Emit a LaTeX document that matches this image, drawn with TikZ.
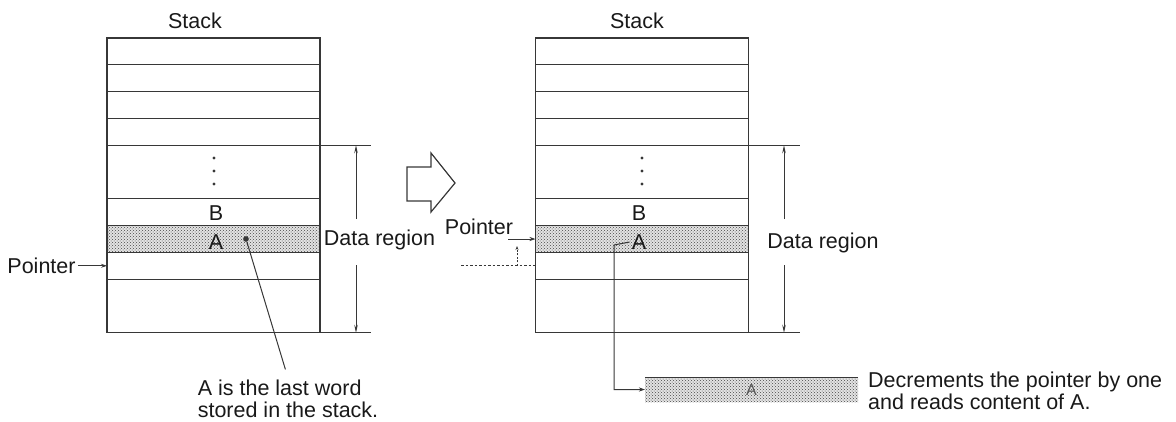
\documentclass[tikz,border=0pt]{standalone}
\usepackage{fontspec}
\setmainfont{Liberation Sans}
\usepackage{tikz}
\usetikzlibrary{
  arrows.meta,
  patterns
}
\definecolor{LineGray}{RGB}{55, 55, 55}
\definecolor{TextDark}{RGB}{25, 25, 25}
\tikzset{
  cell/.style={draw=LineGray, line width=1.2pt, minimum width=213pt, inner sep=0pt, outer sep=0pt},
  shaded/.style={preaction={fill=gray!22}, pattern=crosshatch dots, pattern color=gray!55!black},
  lbl/.style={text=TextDark, inner sep=2pt},
  rule/.style={draw=LineGray, line width=1.2pt},
  ptr/.style={draw=LineGray, line width=1pt, -{Stealth[length=6pt, width=4pt]}},
  dim/.style={draw=LineGray, line width=1pt, -{Stealth[length=8pt, width=3.5pt]}}
}

\begin{document}
\begin{tikzpicture}[x=1pt, y=-1pt, font=\fontsize{21.5}{22}\selectfont]
  \useasboundingbox (0,0) rectangle (1176,421);
  % the two stacks, before and after
  \foreach \s/\x in {l/213.5, r/642}{
    \foreach \n/\y/\h in {1/51.4/26.8, 2/78.2/26.8, 3/105/26.8, 4/131.8/26.8, 5/172/53.6, 6/212.2/26.8, 8/265.8/26.8, 9/306/53.6}
      \node[cell, minimum height=\h pt] (\s\n) at (\x,\y) {};
    \node[cell, shaded, minimum height=26.8pt] (\s7) at (\x,239) {};
  }
  \foreach \x in {214, 642}
    \foreach \y in {158, 171, 184}
      \fill[LineGray] (\x,\y) circle (1.7pt);

  % left: before
  \node[lbl] (lstack) at (195,21) {Stack};
  \node[lbl] (lBlab) at (216,213) {B};
  \node[lbl] (lAlab) at (216,242) {A};
  \node[lbl] (lptr) at (41.5,265.8) {Pointer};
  \draw[ptr] (lptr.east) -- (l8.west);
  \node[circle, fill=LineGray, inner sep=2pt] (ldot) at (246,239) {};
  \node[lbl, align=left, anchor=north] (lnote) at (288,378) {A is the last word\\stored in the stack.};
  \draw[rule, line width=1pt, shorten >=9pt] (ldot) -- (lnote.north);
  \coordinate (lend) at (371,0);
  \draw[rule] (l5.north east) -- (l5.north east -| lend);
  \draw[rule] (l9.south east) -- (l9.south east -| lend);
  \node[lbl] (ldata) at (379.5,240) {Data region};
  \coordinate (lup) at (356,219);
  \coordinate (ldown) at (356,265);
  \draw[dim] (lup) -- (lup |- l5.north);
  \draw[dim] (ldown) -- (ldown |- l9.south);

  % hollow arrow
  \draw[rule] (407,167) -- (431,167) -- (431,153) -- (455,183) -- (431,212) -- (431,201) -- (407,201) -- cycle;

  % right: after
  \node[lbl] (rstack) at (637,21) {Stack};
  \node[lbl] (rBlab) at (639,213) {B};
  \node[lbl] (rAlab) at (639,242) {A};
  \node[lbl] (rptr) at (479,227) {Pointer};
  \coordinate (rfrom) at (508,0);
  \draw[ptr] (rfrom |- r7.west) -- (r7.west);
  \coordinate (rold) at (461,0);
  \draw[rule, line width=1pt, dashed, dash pattern=on 2.5pt off 2pt] (rold |- r8.west) -- (r8.west);
  \coordinate (rstep) at (517,246);
  \draw[ptr, dash pattern=on 2pt off 1.5pt, -{Stealth[length=4pt, width=3pt]}] (rstep |- r8.west) -- (rstep);
  \coordinate (rend) at (800,0);
  \draw[rule] (r5.north east) -- (r5.north east -| rend);
  \draw[rule] (r9.south east) -- (r9.south east -| rend);
  \node[lbl] (rdata) at (823,243) {Data region};
  \coordinate (rup) at (784,219);
  \coordinate (rdown) at (784,265);
  \draw[dim] (rup) -- (rup |- r5.north);
  \draw[dim] (rdown) -- (rdown |- r9.south);

  % popped word
  \node[shaded, minimum width=213pt, minimum height=25pt, inner sep=0pt, outer sep=0pt] (rbox) at (751.5,389.5) {};
  \draw[rule, line width=1pt] (rbox.north west) -- (rbox.north east);
  \node[lbl, text=black!65, font=\fontsize{16}{18}\selectfont] (rboxA) at (rbox) {A};
  \coordinate (rbend) at (614,245);
  \draw[ptr] (rAlab.west) -- (rbend) -- (rbend |- rbox.west) -- (rbox.west);
  \node[lbl, align=left, anchor=west] (rnote) at (866,391) {Decrements the pointer by one\\and reads content of A.};
\end{tikzpicture}
\end{document}
